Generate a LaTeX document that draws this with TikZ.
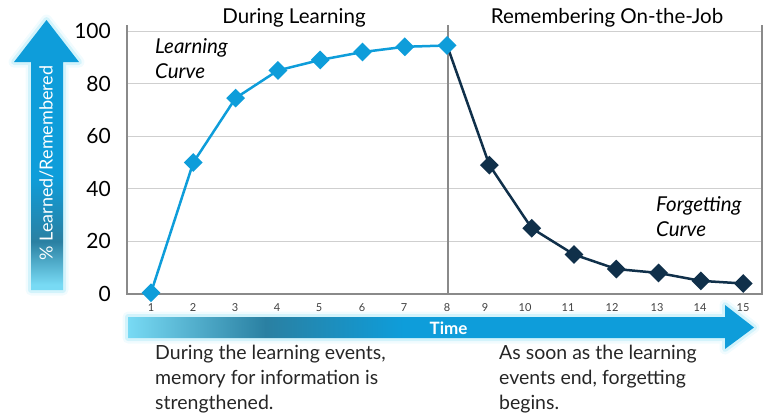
\documentclass[tikz,border=0pt]{standalone}
\usepackage{fontspec}
\setmainfont{Lato}
\usetikzlibrary{shapes.geometric}

\definecolor{lightblue}{HTML}{0E9DDA}
\definecolor{darknavy}{HTML}{10304A}
\definecolor{tealblue}{HTML}{2A80A2}
\definecolor{glowcyan}{HTML}{78DAF4}
\definecolor{axisgray}{HTML}{8A8A8A}
\definecolor{gridgray}{HTML}{CFCFCF}

\pgfdeclareverticalshading{upshade}{100bp}{color(0bp)=(glowcyan); color(26bp)=(glowcyan);
  color(34bp)=(tealblue); color(46bp)=(lightblue); color(100bp)=(lightblue)}
\pgfdeclarehorizontalshading{timeshade}{100bp}{color(0bp)=(glowcyan); color(25bp)=(glowcyan);
  color(36bp)=(tealblue); color(47bp)=(lightblue); color(100bp)=(lightblue)}

\begin{document}
\begin{tikzpicture}[x=1bp,y=-1bp,
                    every node/.style={inner sep=0pt},
                    header/.style={font=\fontsize{20.5bp}{24bp}\selectfont},
                    ylab/.style={anchor=east,font=\fontsize{21bp}{24bp}\selectfont},
                    xlab/.style={text=black!75,font=\fontsize{11bp}{13bp}\selectfont},
                    note/.style={align=left,anchor=west,text=black!85,font=\fontsize{19.5bp}{25bp}\selectfont},
                    curvelab/.style={align=left,anchor=west,font=\fontsize{20.5bp}{25bp}\selectfont\itshape},
                    learnpt/.style={diamond,fill=lightblue,minimum size=19bp},
                    forgetpt/.style={diamond,fill=darknavy,minimum size=19bp},
                    gridline/.style={draw=gridgray,line width=1bp},
                    axisline/.style={draw=axisgray,line width=2bp},
                    glow/.style={draw=glowcyan,line join=round}]

\useasboundingbox (0,0) rectangle (767,416);

% grid and axes
\foreach \v in {20,40,...,100}
  \draw[gridline] (127,294-2.63*\v) -- (762,294-2.63*\v);
\draw[axisline] (127,25) -- (127,294) -- (762,294) -- (762,25);
\draw[axisline] (448,25) -- (448,294);

\foreach \v in {0,20,...,100}
  \node[ylab] (y\v) at (111,294-2.63*\v) {\v};
\foreach \i/\x in {1/151,2/193,3/235,4/277,5/319,6/362,7/404,8/447,
                   9/485,10/525,11/568,12/612,13/657,14/700,15/743}
  \node[xlab] (t\i) at (\x,308) {\i};

\node[header] (hlearn) at (294,18) {During Learning};
\node[header] (hjob) at (607,18) {Remembering On-the-Job};

% curves
\foreach \i/\v in {1/0.5,2/50,3/74.5,4/85,5/89,6/92,7/94,8/94.5,
                   9/49,10/25,11/15,12/9.5,13/8,14/5,15/4}
  \coordinate (p\i) at ({151+42.3*(\i-1)},{294-2.63*\v});
\draw[lightblue,line width=2.5bp,line join=round] (p1) \foreach \i in {2,...,8} {-- (p\i)};
\draw[darknavy,line width=2.5bp,line join=round] (p8) \foreach \i in {9,...,15} {-- (p\i)};
\foreach \i in {9,...,15} \node[forgetpt] (d\i) at (p\i) {};
\foreach \i in {1,...,8} \node[learnpt] (d\i) at (p\i) {};

\node[curvelab] (lcurve) at (155,59) {Learning\\Curve};
\node[curvelab] (fcurve) at (656,217) {Forgetting\\Curve};

% axis arrows
\foreach \w/\o in {11/.1,6/.25}
  \draw[glow,line width=\w bp,opacity=\o] (31,290) -- (31,62) -- (14,62) -- (46.5,20)
    -- (79,62) -- (63,62) -- (63,290) -- cycle;
\shade[shading=upshade] (31,290) -- (31,62) -- (14,62) -- (46.5,20)
  -- (79,62) -- (63,62) -- (63,290) -- cycle;
\node[rotate=90,text=white,font=\fontsize{18bp}{22bp}\selectfont] (ytitle) at (46.5,163) {\% Learned/Remembered};

\foreach \w/\o in {11/.1,6/.25}
  \draw[glow,line width=\w bp,opacity=\o] (128,317) -- (725,317) -- (725,305) -- (754,327.5)
    -- (725,349) -- (725,338) -- (128,338) -- cycle;
\shade[shading=timeshade] (128,317) -- (725,317) -- (725,305) -- (754,327.5)
  -- (725,349) -- (725,338) -- (128,338) -- cycle;
\node[text=white,font=\fontsize{17bp}{20bp}\selectfont\bfseries] (xtitle) at (448.5,328) {Time};

% notes
\node[note] (nlearn) at (155,379) {During the learning events,\\memory for information is\\strengthened.};
\node[note] (nforget) at (499,379) {As soon as the learning\\events end, forgetting\\begins.};

\end{tikzpicture}
\end{document}
